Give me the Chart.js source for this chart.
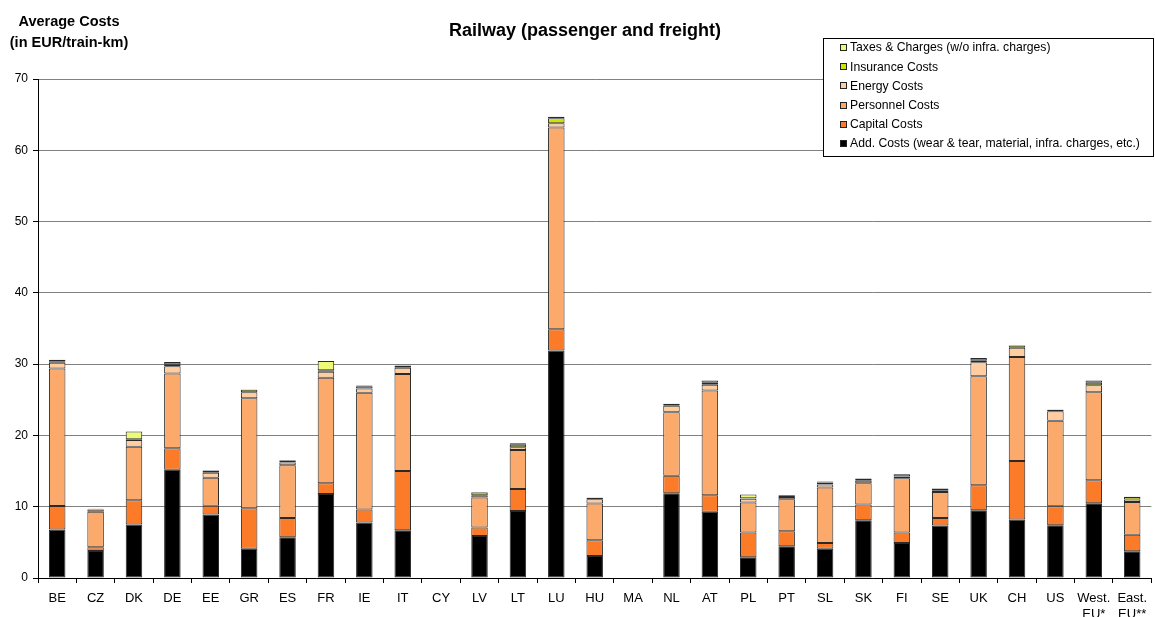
<!DOCTYPE html>
<html>
<head>
<meta charset="utf-8">
<script src="https://cdn.jsdelivr.net/npm/chart.js@4/dist/chart.umd.min.js"></script>
<style>
  html, body { margin: 0; padding: 0; background: #fff; }
  #chart { display: block; }
</style>
</head>
<body>
<canvas id="chart" width="1155" height="617"></canvas>
<script>
// categories (countries) and the six cost parts, bottom to top
const countries = ['BE','CZ','DK','DE','EE','GR','ES','FR','IE','IT','CY','LV','LT','LU','HU','MA',
    'NL','AT','PL','PT','SL','SK','FI','SE','UK','CH','US',['West.','EU*'],['East.','EU**']];

const addCosts = [6.8,3.8,7.5,15.2,8.9,4.1,5.7,11.8,7.8,6.7,null,5.9,9.4,31.9,3.1,null,
    11.9,9.3,2.9,4.45,4.1,8.1,4.9,7.35,9.5,8.2,7.4,10.5,3.75];
const capitalCosts = [3.3,0.5,3.4,3.0,1.25,5.7,2.7,1.5,1.8,8.3,null,1.2,3.1,3.0,2.2,null,
    2.45,2.3,3.5,2.1,0.8,2.2,1.5,1.05,3.5,8.2,2.65,3.2,2.3];
const personnelCosts = [19.3,5.0,7.5,10.5,3.9,15.4,7.4,14.8,16.4,13.6,null,4.2,5.45,28.3,5.15,null,
    8.9,14.7,4.2,4.5,7.8,3.0,7.6,3.65,15.3,14.6,12.0,12.35,4.6];
const energyCosts = [0.8,0.3,0.95,1.0,0.7,0.85,0.4,0.85,0.6,0.9,null,0.3,0.4,0.6,0.6,null,
    0.9,0.8,0.5,0.3,0.4,0.35,0.25,0.25,1.95,1.3,1.35,1.0,0.35];
const insuranceCosts = [0.2,0.05,0.1,0.3,0.3,0.35,0.3,0.2,0.3,0.25,null,0.4,0.35,0.7,0.2,null,
    0.25,0.3,0.1,0.25,0.3,0.25,0.3,0.2,0.3,0.3,0.2,0.35,0.35];
const taxesCharges = [0.2,0.05,1.1,0.3,0.05,0.05,0.05,1.3,0.1,0.05,null,0.05,0.2,0.2,0.05,null,
    0.05,0.3,0.5,0.05,0.15,0.05,0.05,0.05,0.3,0.05,0.05,0.3,0.05];

const yTicks = [0,10,20,30,40,50,60,70];

const FONT = "'Liberation Sans', Arial, sans-serif";

function part(label, data, color) {
    return {
        label: label,
        data: data,
        backgroundColor: color,
        borderColor: '#2a2a2a',
        borderWidth: 1,
        borderSkipped: false,
        barPercentage: 0.43,
        categoryPercentage: 1.0
    };
}

// titles and the boxed legend sit over the plot like in the original
const overlay = {
    id: 'overlay',
    afterDraw(chart) {
        const ctx = chart.ctx;
        ctx.save();
        ctx.fillStyle = '#000';
        ctx.textAlign = 'center';
        ctx.textBaseline = 'middle';
        ctx.font = 'bold 18px ' + FONT;
        ctx.fillText('Railway (passenger and freight)', 585, 31);
        ctx.font = 'bold 14.5px ' + FONT;
        ctx.fillText('Average Costs', 69, 22);
        ctx.fillText('(in EUR/train-km)', 69, 43);

        // legend box
        const bx = 823, by = 38, bw = 330, bh = 118;
        ctx.fillStyle = '#fff';
        ctx.fillRect(bx, by, bw, bh);
        ctx.strokeStyle = '#000';
        ctx.lineWidth = 1;
        ctx.strokeRect(bx + 0.5, by + 0.5, bw, bh);

        ctx.font = '12.2px ' + FONT;
        ctx.textAlign = 'left';
        const sets = chart.data.datasets.slice().reverse();
        sets.forEach((ds, i) => {
            const cy = 48 + i * 19.2;
            const sy = Math.round(cy - 3);
            ctx.fillStyle = ds.backgroundColor;
            ctx.fillRect(841, sy, 6, 6);
            ctx.strokeStyle = '#222';
            ctx.strokeRect(840.5, sy - 0.5, 6, 6);
            ctx.fillStyle = '#000';
            ctx.fillText(ds.label, 850, cy);
        });
        ctx.restore();
    }
};

new Chart(document.getElementById('chart'), {
    type: 'bar',
    data: {
        labels: countries,
        datasets: [
            part('Add. Costs (wear & tear, material, infra. charges, etc.)', addCosts, '#000000'),
            part('Capital Costs', capitalCosts, '#FB7B28'),
            part('Personnel Costs', personnelCosts, '#FCAA6C'),
            part('Energy Costs', energyCosts, '#FFCDA0'),
            part('Insurance Costs', insuranceCosts, '#CCE400'),
            part('Taxes & Charges (w/o infra. charges)', taxesCharges, '#ECFA78')
        ]
    },
    options: {
        responsive: false,
        animation: false,
        layout: { padding: { top: 79, right: 0, left: 0, bottom: 0 } },
        plugins: {
            legend: { display: false },
            title: { display: false },
            tooltip: { enabled: false }
        },
        scales: {
            x: {
                stacked: true,
                afterFit: (scale) => { scale.height = 39; },
                grid: {
                    offset: true,
                    drawOnChartArea: false,
                    tickLength: 5,
                    tickColor: '#000'
                },
                border: { color: '#000' },
                ticks: {
                    autoSkip: false,
                    maxRotation: 0,
                    padding: 8,
                    color: '#000',
                    font: { family: FONT, size: 13 }
                }
            },
            y: {
                stacked: true,
                min: 0,
                max: 70,
                afterFit: (scale) => { scale.width = 38; },
                afterBuildTicks: (scale) => { scale.ticks = yTicks.map(v => ({ value: v })); },
                grid: {
                    color: '#808080',
                    tickColor: '#000',
                    tickLength: 5
                },
                border: { color: '#000' },
                ticks: {
                    padding: 5,
                    color: '#000',
                    font: { family: FONT, size: 12 }
                }
            }
        }
    },
    plugins: [overlay]
});
</script>
</body>
</html>
